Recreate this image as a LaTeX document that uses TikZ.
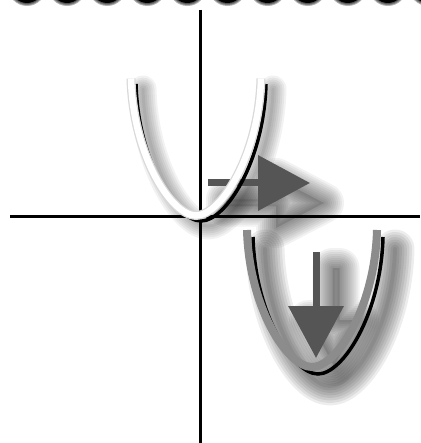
\documentclass[tikz,border=0pt]{standalone}
\usetikzlibrary{arrows.meta}
\definecolor{arrowgray}{RGB}{85,85,85}
\definecolor{tubegray}{RGB}{140,140,140}
\newcommand\cupcurve{(-65,-137) .. controls (-63,-60) and (-25,0) .. (0,0) .. controls (25,0) and (63,-60) .. (65,-137)}
\newcommand\pushshapeA{(226,199.5) -- (276,199.5) -- (276,178) -- (324,203) -- (276,228) -- (276,206.5) -- (226,206.5) -- cycle}
\newcommand\pushshapeB{(332.5,268) -- (332.5,320) -- (309,320) -- (334,366) -- (359,320) -- (339.5,320) -- (339.5,268) -- cycle}
\tikzset{
  axisline/.style={line width=3pt},
  haze/.style={black,opacity=0.05,line cap=round,line join=round},
  rim/.style={black,line width=3.5pt},
  pusharrow/.style={draw=arrowgray,line width=7pt,-{Triangle[length=52pt,width=54pt]}},
}
\begin{document}
\begin{tikzpicture}[x=1pt,y=-1pt]
  \fill[white] (0,0) rectangle (420,443);
  \useasboundingbox (0,0) rectangle (420,443);
  % dots cut by the top edge
  \foreach \i in {0,...,10}{
    \foreach \r in {19,18,17} \fill[black,opacity=0.3] (27+40.1*\i,-13) circle (\r);
    \fill[black] (27+40.1*\i,-13) circle (16);
  }
  % axes
  \coordinate (o) at (200,216);
  \draw[axisline] (200,10) -- (200,443);
  \draw[axisline] (10,216) -- (420,216);
  % soft shadows
  \foreach \w in {3,7,...,27}
    \draw[haze,line width=\w pt,shift={(208,226)}] \cupcurve;
  \foreach \w in {4,9,...,39}
    \draw[haze,opacity=0.07,line width=\w pt,shift={(330,386)}] \cupcurve;
  \fill[black,opacity=0.12] \pushshapeA;
  \fill[black,opacity=0.12] \pushshapeB;
  \foreach \w in {4,8,...,40}{
    \draw[haze,line width=\w pt] \pushshapeA;
    \draw[haze,line width=\w pt] \pushshapeB;
  }
  % the two pushes
  \coordinate (pushA) at (208,183);
  \coordinate (tipA) at (310,183);
  \coordinate (pushB) at (316,252);
  \coordinate (tipB) at (316,358);
  \draw[pusharrow] (pushA) -- (tipA);
  \draw[pusharrow] (pushB) -- (tipB);
  % first cup: white tube
  \draw[rim,shift={(201,221)}] \cupcurve;
  \draw[gray!30,line width=9pt,shift={(196,215.5)}] \cupcurve;
  \draw[white,line width=6.5pt,shift={(196,215.5)}] \cupcurve;
  % second cup: gray tube
  \draw[rim,shift={(318,374)}] \cupcurve;
  \draw[tubegray,line width=8pt,shift={(312,367)}] \cupcurve;
\end{tikzpicture}
\end{document}
